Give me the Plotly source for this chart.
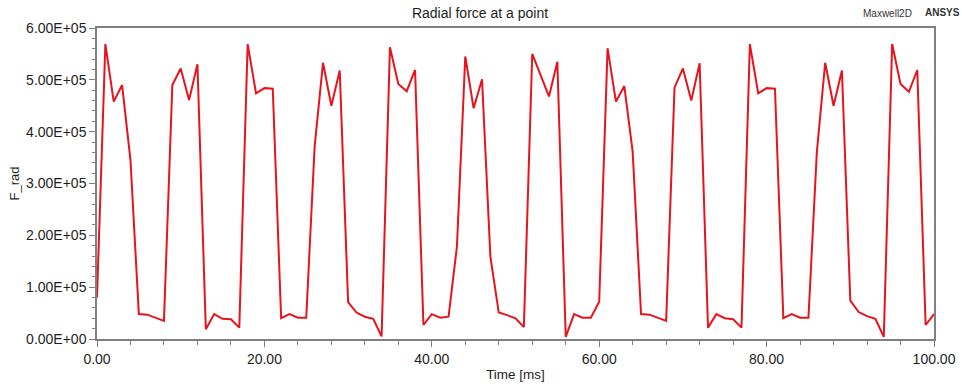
import plotly.graph_objects as go

# Time samples [ms] and radial force values [N/m^2]
time_ms = [0, 1, 2, 3, 4, 5, 6, 8, 9, 10, 11, 12, 13, 14, 15, 16, 17, 18, 19, 20,
           21, 22, 23, 24, 25, 26, 27, 28, 29, 30, 31, 32, 33, 34, 35, 36, 37, 38, 39, 40,
           41, 42, 43, 44, 45, 46, 47, 48, 49, 50, 51, 52, 54, 55, 56, 57, 58, 59, 60,
           61, 62, 63, 64, 65, 66, 68, 69, 70, 71, 72, 73, 74, 75, 76, 77, 78, 79, 80,
           81, 82, 83, 84, 85, 86, 87, 88, 89, 90, 91, 92, 93, 94, 95, 96, 97, 98, 99, 100]
f_rad = [0.80e5, 5.69e5, 4.58e5, 4.90e5, 3.45e5, 0.48e5, 0.47e5, 0.35e5, 4.90e5, 5.22e5,
         4.61e5, 5.30e5, 0.19e5, 0.48e5, 0.39e5, 0.38e5, 0.22e5, 5.69e5, 4.74e5, 4.84e5,
         4.83e5, 0.40e5, 0.48e5, 0.41e5, 0.41e5, 3.71e5, 5.33e5, 4.50e5, 5.18e5, 0.71e5,
         0.51e5, 0.43e5, 0.39e5, 0.05e5, 5.63e5, 4.92e5, 4.78e5, 5.19e5, 0.27e5, 0.48e5,
         0.41e5, 0.43e5, 1.78e5, 5.45e5, 4.45e5, 5.01e5, 1.59e5, 0.51e5, 0.46e5, 0.40e5,
         0.23e5, 5.50e5, 4.68e5, 5.35e5, 0.04e5, 0.48e5, 0.41e5, 0.41e5, 0.72e5,
         5.61e5, 4.58e5, 4.88e5, 3.61e5, 0.48e5, 0.47e5, 0.35e5, 4.85e5, 5.22e5, 4.60e5,
         5.32e5, 0.22e5, 0.48e5, 0.40e5, 0.38e5, 0.22e5, 5.69e5, 4.74e5, 4.84e5,
         4.83e5, 0.40e5, 0.48e5, 0.41e5, 0.41e5, 3.60e5, 5.33e5, 4.50e5, 5.18e5, 0.74e5,
         0.52e5, 0.44e5, 0.39e5, 0.04e5, 5.69e5, 4.92e5, 4.77e5, 5.19e5, 0.27e5, 0.48e5]

x_tick_vals = [0, 20, 40, 60, 80, 100]
x_tick_text = ["0.00", "20.00", "40.00", "60.00", "80.00", "100.00"]
y_tick_vals = [0, 1e5, 2e5, 3e5, 4e5, 5e5, 6e5]
y_tick_text = ["0.00E+00", "1.00E+05", "2.00E+05", "3.00E+05", "4.00E+05", "5.00E+05", "6.00E+05"]

FONT = "Arial, Liberation Sans, sans-serif"
AXC = "#808080"
TXT = "#1e1e1e"

fig = go.Figure()
fig.add_trace(go.Scatter(x=time_ms, y=f_rad, mode="lines",
                         line=dict(color="#e6141c", width=2), showlegend=False))

fig.update_layout(
    width=962, height=386,
    margin=dict(l=97, r=28, t=28, b=47, autoexpand=False),
    paper_bgcolor="white", plot_bgcolor="white",
    font=dict(family=FONT, color=TXT),
    title=dict(text="Radial force at a point", x=(480 - 97) / 837, xref="paper", xanchor="center",
               y=1 - 13 / 386, yref="container", yanchor="middle",
               font=dict(size=14, color=TXT)),
    annotations=[
        dict(text="Maxwell2D", xref="paper", yref="paper", x=(914 - 97) / 837, y=(339 - 13) / 311,
             xanchor="right", yanchor="middle", showarrow=False,
             font=dict(size=10, color="#333333")),
        dict(text="<b>ANSYS</b>", xref="paper", yref="paper", x=(923 - 97) / 837, y=(339 - 12) / 311,
             xanchor="left", yanchor="middle", showarrow=False,
             font=dict(size=10, color="#333333")),
    ],
)

fig.update_xaxes(
    range=[0, 100], tickvals=x_tick_vals, ticktext=x_tick_text, automargin=False,
    ticks="outside", ticklen=6, tickcolor=AXC, tickwidth=1,
    showline=True, linecolor=AXC, linewidth=1.5, mirror=True,
    showgrid=False, zeroline=False,
    tickfont=dict(size=14, color=TXT),
    title=dict(text="Time [ms]", font=dict(size=13.5, color=TXT), standoff=4),
    minor=dict(dtick=4, ticks="outside", ticklen=4, tickcolor=AXC, showgrid=False),
)
fig.update_yaxes(
    range=[0, 6e5], tickvals=y_tick_vals, ticktext=y_tick_text, automargin=False,
    ticks="outside", ticklen=6, tickcolor=AXC, tickwidth=1,
    showline=True, linecolor=AXC, linewidth=1.5, mirror=True,
    showgrid=False, zeroline=False,
    tickfont=dict(size=14, color=TXT),
    title=dict(text="F_rad", font=dict(size=13, color=TXT), standoff=4),
    minor=dict(dtick=2e4, ticks="outside", ticklen=3, tickcolor=AXC, showgrid=False),
)

fig.write_html("out.html", config={"displayModeBar": False},
               post_script="document.body.style.margin='0';")
